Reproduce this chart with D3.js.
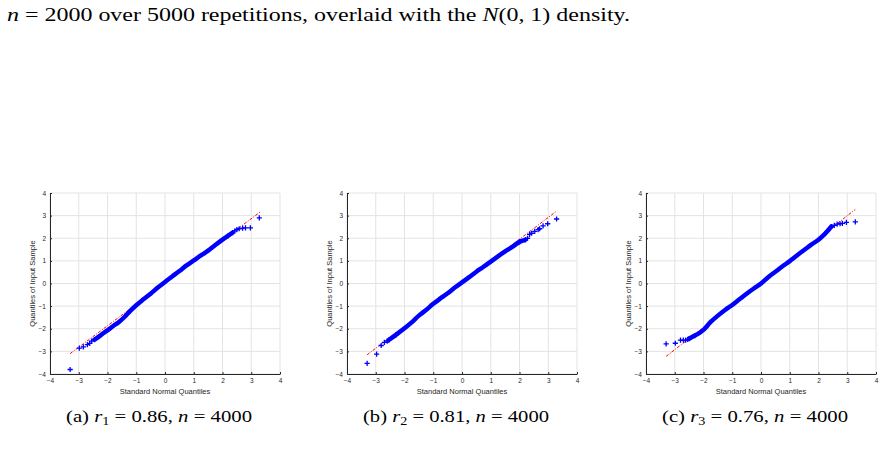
<!DOCTYPE html>
<html>
<head>
<meta charset="utf-8">
<script src="https://cdn.jsdelivr.net/npm/d3@7"></script>
<style>
  html, body { margin: 0; padding: 0; background: #fff; }
  svg { display: block; }
</style>
</head>
<body>
<svg id="fig" width="884" height="452"></svg>
<script>
// tick values shared by all three panels
var xTicks = [-4, -3, -2, -1, 0, 1, 2, 3, 4];
var yTicks = [-4, -3, -2, -1, 0, 1, 2, 3, 4];

// (a) dense part of the qq-plot (theoretical, sample) and the loose tail markers
var bandA = [[-2.45,-2.48],[-2.3,-2.35],[-2.15,-2.2],[-2.0,-2.07],[-1.8,-1.88],[-1.6,-1.7],[-1.4,-1.47],
  [-1.2,-1.2],[-1.0,-0.96],[-0.75,-0.7],[-0.5,-0.45],[-0.25,-0.18],[0,0.07],[0.25,0.31],[0.5,0.55],
  [0.75,0.8],[1.0,1.02],[1.25,1.24],[1.5,1.45],[1.75,1.7],[2.0,1.94],[2.2,2.12],[2.35,2.25]];
var tailA = [[-3.3,-3.8],[-2.98,-2.86],[-2.84,-2.8],[-2.7,-2.7],[-2.62,-2.65],[-2.55,-2.55],
  [2.43,2.33],[2.5,2.38],[2.58,2.42],[2.7,2.45],[2.8,2.46],[2.97,2.46],[3.28,2.9]];
var refA = [[-3.3,-3.1],[3.3,3.15]];

// (b)
var bandB = [[-2.55,-2.5],[-2.3,-2.27],[-2.0,-1.98],[-1.75,-1.72],[-1.5,-1.42],[-1.25,-1.17],[-1.0,-0.9],
  [-0.75,-0.66],[-0.5,-0.43],[-0.25,-0.18],[0,0.05],[0.25,0.28],[0.5,0.52],[0.75,0.74],[1.0,0.97],
  [1.25,1.2],[1.5,1.42],[1.75,1.62],[2.0,1.84],[2.2,1.93]];
var tailB = [[-3.3,-3.53],[-2.97,-3.12],[-2.81,-2.74],[-2.7,-2.6],[-2.6,-2.55],
  [2.28,2.0],[2.35,2.17],[2.42,2.22],[2.53,2.3],[2.65,2.38],[2.7,2.42],[2.82,2.55],[2.98,2.64],[3.29,2.85]];
var refB = [[-3.3,-3.15],[3.29,3.2]];

// (c)
var bandC = [[-2.5,-2.44],[-2.3,-2.3],[-2.15,-2.19],[-2.0,-2.05],[-1.75,-1.7],[-1.5,-1.42],[-1.25,-1.17],
  [-1.0,-0.95],[-0.75,-0.7],[-0.5,-0.45],[-0.25,-0.22],[0,0.0],[0.25,0.28],[0.5,0.52],[0.75,0.76],
  [1.0,0.99],[1.25,1.24],[1.5,1.48],[1.75,1.72],[2.0,1.93],[2.15,2.1],[2.3,2.3],[2.45,2.52]];
var tailC = [[-3.3,-2.67],[-2.98,-2.64],[-2.8,-2.5],[-2.7,-2.5],[-2.62,-2.5],[-2.55,-2.47],
  [2.55,2.57],[2.65,2.62],[2.75,2.64],[2.83,2.66],[2.97,2.7],[3.28,2.72]];
var refC = [[-3.3,-3.22],[3.28,3.27]];

var captionLetters = ['a', 'b', 'c'];
var captionIdx = ['1', '2', '3'];
var captionR = ['0.86', '0.81', '0.76'];
var captionN = ['4000', '4000', '4000'];

var svg = d3.select('#fig');
var serif = '"Liberation Serif", "DejaVu Serif", serif';
var sans = '"Liberation Sans", Arial, Helvetica, sans-serif';

// running text above the figure
var intro = svg.append('text')
  .attr('x', 7).attr('y', 21)
  .attr('font-family', serif).attr('font-size', 18.5)
  .attr('fill', '#000')
  .attr('textLength', 623).attr('lengthAdjust', 'spacingAndGlyphs');
intro.append('tspan').attr('font-style', 'italic').text('n');
intro.append('tspan').text(' = 2000 over 5000 repetitions, overlaid with the ');
intro.append('tspan').attr('font-style', 'italic').text('N');
intro.append('tspan').text('(0, 1) density.');

var panels = [
  {band: bandA, tail: tailA, ref: refA, left: 50},
  {band: bandB, tail: tailB, ref: refB, left: 347},
  {band: bandC, tail: tailC, ref: refC, left: 646}
];
var W = 230, axTop = 193, axBottom = 374;

panels.forEach(function(p, i) {
  var x = d3.scaleLinear().domain([-4, 4]).range([p.left, p.left + W]);
  var y = d3.scaleLinear().domain([-4, 4]).range([axBottom, axTop]);
  var g = svg.append('g');

  // grid
  g.selectAll('.gx').data(xTicks).enter().append('line')
    .attr('x1', function(d){ return x(d); }).attr('x2', function(d){ return x(d); })
    .attr('y1', axTop).attr('y2', axBottom)
    .attr('stroke', '#e3e3e3').attr('stroke-width', 1);
  g.selectAll('.gy').data(yTicks).enter().append('line')
    .attr('y1', function(d){ return y(d); }).attr('y2', function(d){ return y(d); })
    .attr('x1', p.left).attr('x2', p.left + W)
    .attr('stroke', '#e3e3e3').attr('stroke-width', 1);

  // reference line (red dash-dot)
  g.append('path')
    .attr('d', d3.line().x(function(d){ return x(d[0]); }).y(function(d){ return y(d[1]); })(p.ref))
    .attr('fill', 'none').attr('stroke', '#ff0000').attr('stroke-width', 1)
    .attr('stroke-dasharray', '3,1.5,1,1.5');

  // dense band of markers
  g.append('path')
    .attr('d', d3.line().curve(d3.curveMonotoneX)
      .x(function(d){ return x(d[0]); }).y(function(d){ return y(d[1]); })(p.band))
    .attr('fill', 'none').attr('stroke', '#0000ff').attr('stroke-width', 4.5)
    .attr('stroke-linecap', 'round').attr('stroke-linejoin', 'round');

  // loose markers
  g.selectAll('.pt').data(p.tail.concat(p.band.slice(0, 2), p.band.slice(-2))).enter().append('path')
    .attr('d', function(d) {
      var cx = x(d[0]), cy = y(d[1]), r = 2.6;
      return 'M' + (cx - r) + ',' + cy + 'H' + (cx + r) + 'M' + cx + ',' + (cy - r) + 'V' + (cy + r);
    })
    .attr('stroke', '#0000ff').attr('stroke-width', 1.3).attr('fill', 'none');

  // axes
  var ax = g.append('g').attr('transform', 'translate(0,' + axBottom + ')')
    .call(d3.axisBottom(x).tickValues(xTicks).tickSize(-2).tickPadding(4).tickSizeOuter(0));
  var ay = g.append('g').attr('transform', 'translate(' + p.left + ',0)')
    .call(d3.axisLeft(y).tickValues(yTicks).tickSize(-2).tickPadding(4).tickSizeOuter(0));
  [ax, ay].forEach(function(a) {
    a.select('.domain').attr('stroke', '#262626').attr('stroke-width', 1);
    a.selectAll('.tick line').attr('stroke', '#262626');
    a.selectAll('.tick text').attr('font-family', sans).attr('font-size', 6.5).attr('fill', '#262626');
  });

  g.append('text')
    .attr('x', p.left + W / 2).attr('y', 394)
    .attr('text-anchor', 'middle')
    .attr('font-family', sans).attr('font-size', 7.5).attr('fill', '#262626')
    .text('Standard Normal Quantiles');
  g.append('text')
    .attr('transform', 'translate(' + (p.left - 15) + ',' + ((axTop + axBottom) / 2) + ') rotate(-90)')
    .attr('text-anchor', 'middle')
    .attr('font-family', sans).attr('font-size', 7.5).attr('fill', '#262626')
    .text('Quantiles of Input Sample');

  // sub-caption
  var cap = svg.append('text')
    .attr('x', p.left + W / 2 - 6).attr('y', 422)
    .attr('text-anchor', 'middle')
    .attr('font-family', serif).attr('font-size', 17.5).attr('fill', '#000')
    .attr('textLength', 186).attr('lengthAdjust', 'spacingAndGlyphs');
  cap.append('tspan').text('(' + captionLetters[i] + ') ');
  cap.append('tspan').attr('font-style', 'italic').text('r');
  cap.append('tspan').attr('font-size', 12).attr('dy', 3).text(captionIdx[i]);
  cap.append('tspan').attr('dy', -3).text(' = ' + captionR[i] + ', ');
  cap.append('tspan').attr('font-style', 'italic').text('n');
  cap.append('tspan').text(' = ' + captionN[i]);
});
</script>
</body>
</html>
